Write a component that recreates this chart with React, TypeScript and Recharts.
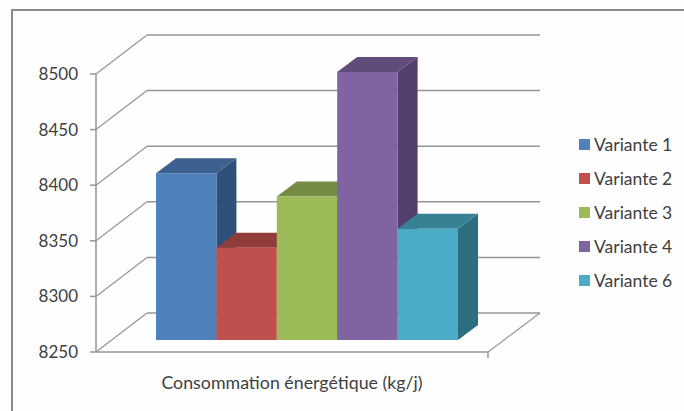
import { BarChart, Bar, XAxis, YAxis, CartesianGrid, Legend } from "recharts";

const categories = ["Consommation énergétique (kg/j)"];
const seriesNames = ["Variante 1", "Variante 2", "Variante 3", "Variante 4", "Variante 6"];
const seriesValues = [8400, 8333, 8379, 8491, 8350];
const yTicks = [8250, 8300, 8350, 8400, 8450, 8500];

const frontColors = ["#4F81BD", "#C0504D", "#9BBB59", "#8064A2", "#4BACC6"];
const topColors = ["#3C618F", "#903C3A", "#748C43", "#604B7A", "#378195"];
const sideColors = ["#2F5078", "#7A3230", "#627638", "#533F6D", "#2C6D80"];

const rows = [
  Object.fromEntries([["category", categories[0]], ...seriesNames.map((n, i) => [n, seriesValues[i]])]),
];

const FONT = "Lato, 'Open Sans', sans-serif";
const TEXT = "#3f3f3f";
const LINE = "#969696";

// depth of the fake 3D walls and of each bar
const WALL_DX = 51;
const WALL_DY = 39;
const BAR_SHIFT_X = 15;
const BAR_SHIFT_Y = 12;
const BAR_DX = 20;
const BAR_DY = 15;

function WallLine(props: any) {
  const { x1, x2, y1, y, height } = props;
  const isFloor = Math.abs(y1 - (y + height)) < 1;
  const backY = y1 - WALL_DY;
  return (
    <g fill="none" stroke={LINE}>
      <path d={`M${x1},${y1}L${x1 + WALL_DX},${backY}`} strokeWidth={1.2} />
      <path d={`M${x1 + WALL_DX},${backY}L${x2 + WALL_DX + 1},${backY}`} strokeWidth={1.5} />
      {isFloor && (
        <>
          <path d={`M${x2},${y1}L${x2 + WALL_DX + 1},${backY}`} strokeWidth={1.2} />
          <path d={`M${x2},${y1}V${y1 + 6}`} strokeWidth={1.5} />
        </>
      )}
    </g>
  );
}

function Bar3D(props: any) {
  const { x, y, width, height, index, seriesIndex } = props;
  const left = x + BAR_SHIFT_X;
  const top = y - BAR_SHIFT_Y;
  const right = left + width;
  const bottom = top + height;
  return (
    <g>
      <path
        d={`M${right},${top}L${right + BAR_DX},${top - BAR_DY}V${bottom - BAR_DY}L${right},${bottom}Z`}
        fill={sideColors[seriesIndex ?? index]}
      />
      <path
        d={`M${left},${top}L${left + BAR_DX},${top - BAR_DY}H${right + BAR_DX}L${right},${top}Z`}
        fill={topColors[seriesIndex ?? index]}
      />
      <rect x={left} y={top} width={width} height={height} fill={frontColors[seriesIndex ?? index]} />
    </g>
  );
}

function LegendList({ payload }: any) {
  return (
    <div style={{ fontFamily: FONT, fontSize: 17.5, color: TEXT }}>
      {(payload ?? []).map((p: any) => (
        <div key={p.value} style={{ display: "flex", alignItems: "center", height: 33.8 }}>
          <span style={{ width: 11, height: 11, background: p.color, marginRight: 4 }} />
          <span>{p.value}</span>
        </div>
      ))}
    </div>
  );
}

export default function App() {
  return (
    <div style={{ position: "absolute", left: 0, top: 0, width: 684, height: 411, background: "#fefefe", overflow: "hidden" }}>
      <div
        style={{
          position: "absolute",
          left: 11,
          top: 9,
          width: 673,
          height: 402,
          borderTop: "2px solid #8c8c8c",
          borderLeft: "2px solid #8c8c8c",
        }}
      />
      <BarChart
        width={684}
        height={411}
        data={rows}
        margin={{ top: 74, right: 91, bottom: 0, left: 0 }}
        barSize={60.4}
        barGap={0}
        style={{ position: "absolute", left: 0, top: 0 }}
      >
        <CartesianGrid vertical={false} horizontal={(p: any) => <WallLine key={p.key} {...p} />} />
        <XAxis
          dataKey="category"
          axisLine={{ stroke: LINE, strokeWidth: 1.5 }}
          tickLine={false}
          tick={{ fontFamily: FONT, fontSize: 17.8, fill: TEXT }}
          tickMargin={18}
          height={59}
        />
        <YAxis
          width={96}
          domain={[8250, 8500]}
          ticks={yTicks}
          interval={0}
          axisLine={{ stroke: LINE, strokeWidth: 1.5 }}
          tickLine={{ stroke: LINE, strokeWidth: 1.5 }}
          tickSize={6}
          tickMargin={12}
          tick={{ fontFamily: FONT, fontSize: 17, fill: TEXT }}
        />
        <Legend
          layout="vertical"
          align="right"
          verticalAlign="middle"
          content={<LegendList />}
          wrapperStyle={{ width: 105, left: 579, top: 128 }}
        />
        {seriesNames.map((name, i) => (
          <Bar
            key={name}
            dataKey={name}
            name={name}
            fill={frontColors[i]}
            isAnimationActive={false}
            shape={(p: any) => <Bar3D {...p} seriesIndex={i} />}
          />
        ))}
      </BarChart>
    </div>
  );
}
